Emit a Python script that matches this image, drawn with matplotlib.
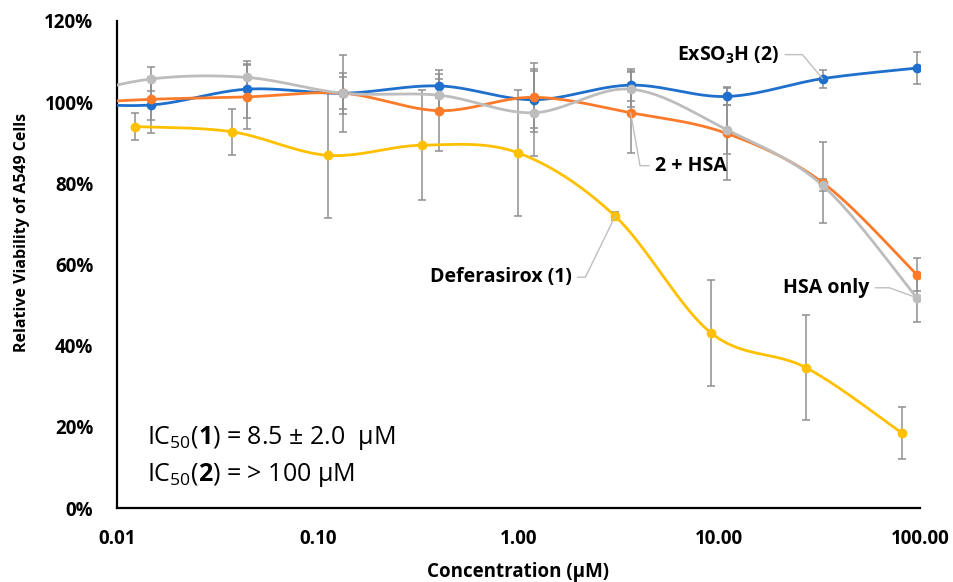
import numpy as np
import matplotlib
matplotlib.use('Agg')
from matplotlib import pyplot as plt
from matplotlib.ticker import FuncFormatter

plt.rcParams['font.family'] = ['Open Sans', 'DejaVu Sans']
plt.rcParams['mathtext.fontset'] = 'custom'
plt.rcParams['mathtext.rm'] = 'Open Sans'
plt.rcParams['mathtext.bf'] = 'Open Sans:bold'
plt.rcParams['mathtext.it'] = 'Open Sans:italic'

# concentrations (uM); first point lies left of 0.01 and is clipped
conc = [0.0049, 0.0147, 0.0443, 0.134, 0.404, 1.19, 3.62, 10.9, 32.7, 96.4]
conc_defer = [0.0123, 0.0375, 0.1125, 0.332, 0.997, 3.03, 9.12, 27.0, 81.7]

exso3h = [100.0, 99.3, 103.2, 102.2, 104.0, 100.6, 104.2, 101.4, 105.8, 108.4]
exso3h_err = [0, 7, 7, 5, 3, 7, 4, 2, 2.2, 4]

exso3h_hsa = [99.5, 100.7, 101.3, 102.2, 97.9, 101.2, 97.4, 92.3, 80.2, 57.5]
exso3h_hsa_err = [0, 5, 8, 4, 10, 8.5, 10, 11.5, 10, 4]

hsa_only = [100.5, 105.7, 106.1, 102.2, 101.7, 97.4, 103.2, 93.2, 79.5, 51.8]
hsa_only_err = [0, 3, 3, 9.5, 4, 10.7, 4.5, 6, 1.5, 6]

deferasirox = [94.0, 92.7, 86.9, 89.4, 87.5, 71.9, 43.1, 34.6, 18.4]
deferasirox_err = [3.3, 5.7, 15.5, 13.5, 15.5, 1.0, 13.1, 13.0, 6.4]

x_ticks = [0.01, 0.1, 1, 10, 100]
x_tick_labels = ['0.01', '0.10', '1.00', '10.00', '100.00']
y_ticks = [0, 20, 40, 60, 80, 100, 120]

BLUE = '#1f6fcc'
ORANGE = '#fb7b2b'
GREY = '#bdbdbd'
GOLD = '#ffc000'
ERR = '#8f8f8f'
LEADER = '#bfbfbf'


def smooth(xs, ys, n=40):
    # Excel style smoothed line: cubic bezier with catmull-rom control points (in log-x space)
    p = np.column_stack([np.log10(xs), ys])
    ext = np.vstack([p[0], p, p[-1]])
    t = np.linspace(0, 1, n)[:, None]
    parts = []
    for i in range(len(p) - 1):
        p0, p1, p2, p3 = ext[i], ext[i + 1], ext[i + 2], ext[i + 3]
        c1 = p1 + (p2 - p0) / 6
        c2 = p2 - (p3 - p1) / 6
        seg = (1 - t)**3 * p1 + 3 * (1 - t)**2 * t * c1 + 3 * (1 - t) * t**2 * c2 + t**3 * p2
        parts.append(seg if i == 0 else seg[1:])
    curve = np.vstack(parts)
    return 10**curve[:, 0], curve[:, 1]


fig = plt.figure(figsize=(9.54, 5.82), dpi=100)
ax = fig.add_axes([117 / 954, 1 - 508 / 582, 803 / 954, 487 / 582])

series = [
    (conc, exso3h, exso3h_err, BLUE),
    (conc, exso3h_hsa, exso3h_hsa_err, ORANGE),
    (conc, hsa_only, hsa_only_err, GREY),
    (conc_defer, deferasirox, deferasirox_err, GOLD),
]

for xs, ys, err, col in series:
    ax.errorbar(xs, ys, yerr=err, fmt='none', ecolor=ERR, elinewidth=1.1,
                capsize=3.2, capthick=1.1, zorder=2)

for xs, ys, err, col in series:
    sx, sy = smooth(xs, ys)
    ax.plot(sx, sy, color=col, lw=2.0, zorder=3, solid_capstyle='round')
    ax.plot(xs, ys, 'o', color=col, markersize=6, zorder=4)

ax.set_xscale('log')
ax.set_xlim(0.01, 100)
ax.set_ylim(0, 120)
ax.set_xticks(x_ticks)
ax.set_xticklabels(x_tick_labels)
ax.minorticks_off()
ax.set_yticks(y_ticks)
ax.yaxis.set_major_formatter(FuncFormatter(lambda v, pos: f'{v:.0f}%'))
ax.tick_params(length=0, labelsize=13.5)
ax.tick_params(axis='x', pad=15)
ax.tick_params(axis='y', pad=17)
for lab in ax.get_xticklabels() + ax.get_yticklabels():
    lab.set_fontweight('bold')

for s in ['top', 'right']:
    ax.spines[s].set_visible(False)
for s in ['left', 'bottom']:
    ax.spines[s].set_linewidth(1.6)
    ax.spines[s].set_color('black')

fig.text(21.7 / 954, 1 - 232 / 582, 'Relative Viability of A549 Cells', rotation=90,
         ha='center', va='center', fontsize=11.5, fontweight='bold')
fig.text(518 / 954, 1 - 572 / 582, 'Concentration (μM)', ha='center', va='center',
         fontsize=13.5, fontweight='bold')

# series labels with Excel-like leader lines
labels = [
    (r'ExSO$_{\mathbf{3}}$H (2)', conc[8], exso3h[8], (-43, 24), 'right', 130),
    ('2 + HSA', conc[6], exso3h_hsa[6], (24, -53), 'left', 100),
    ('Deferasirox (1)', conc_defer[5], deferasirox[5], (-43, -61), 'right', 64),
    ('HSA only', conc[9], hsa_only[9], (-47, 10), 'right', -20),
]
for txt, lx, ly, off, ha, angB in labels:
    ax.annotate(txt, xy=(lx, ly), xytext=off, textcoords='offset pixels',
                ha=ha, va='center', fontsize=14, fontweight='bold', zorder=6,
                arrowprops=dict(arrowstyle='-', color=LEADER, lw=1.0, shrinkA=2, shrinkB=0,
                                relpos=(1, 0.5) if ha == 'right' else (0, 0.5),
                                connectionstyle=f'angle,angleA=0,angleB={angB},rad=0'))

ax.text(0.037, 0.144, r'IC$_{\mathrm{50}}$($\mathbf{1}$) = 8.5 ± 2.0  μM',
        transform=ax.transAxes, fontsize=18, va='center', ha='left')
ax.text(0.037, 0.068, r'IC$_{\mathrm{50}}$($\mathbf{2}$) = > 100 μM',
        transform=ax.transAxes, fontsize=18, va='center', ha='left')

fig.savefig('out.png', dpi=100)
